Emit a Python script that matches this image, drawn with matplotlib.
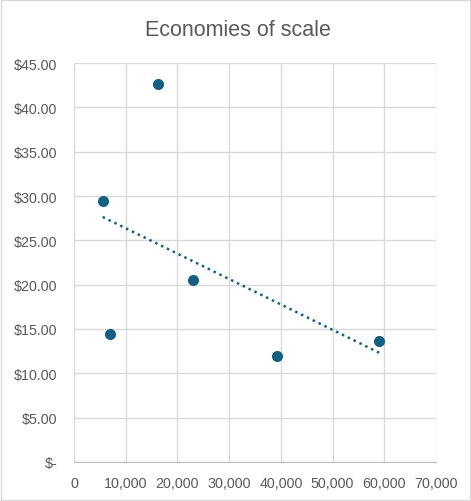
import numpy as np
import matplotlib
matplotlib.use("Agg")
import matplotlib.pyplot as plt
from matplotlib.patches import Rectangle
from matplotlib.ticker import FuncFormatter

volume = [5550, 6960, 16190, 23000, 39270, 59050]
unit_cost = [29.4, 14.4, 42.6, 20.5, 11.9, 13.6]
title = "Economies of scale"

plt.rcParams['font.family'] = ['Liberation Sans', 'DejaVu Sans']

fig = plt.figure(figsize=(4.71, 5.02), dpi=100)
fig.patches.append(Rectangle((0.002, 0.002), 0.996, 0.996, transform=fig.transFigure,
                             fill=False, edgecolor='#d9d9d9', linewidth=1))
ax = fig.add_axes([0.1571, 0.0777, 0.7686, 0.7948])

color = '#156082'
ax.scatter(volume, unit_cost, s=64, color=color, zorder=3, linewidths=0)

coef = np.polyfit(volume, unit_cost, 1)
xs = np.array([min(volume), max(volume)])
ax.plot(xs, np.polyval(coef, xs), linestyle=(0, (1, 1.6)), color=color, linewidth=1.8, zorder=2)

ax.set_xlim(0, 70000)
ax.set_ylim(0, 45)
ax.set_xticks(np.arange(0, 70001, 10000))
ax.set_yticks(np.arange(0, 45.1, 5))
ax.xaxis.set_major_formatter(FuncFormatter(lambda v, p: f"{int(v):,}"))
ax.yaxis.set_major_formatter(FuncFormatter(lambda v, p: "$-" if v == 0 else f"${v:.2f}"))
ax.grid(True, color='#d9d9d9', linewidth=1)
ax.set_axisbelow(True)
for s in ['top', 'right', 'left']:
    ax.spines[s].set_visible(False)
ax.spines['bottom'].set_color('#bfbfbf')
ax.tick_params(length=0, labelsize=10.3, colors='#595959')
ax.tick_params(axis='y', pad=12)
ax.tick_params(axis='x', pad=10)

fig.text(0.505, 0.94, title, ha='center', va='center', fontsize=15.5, color='#595959')

fig.savefig("out.png", dpi=100)
